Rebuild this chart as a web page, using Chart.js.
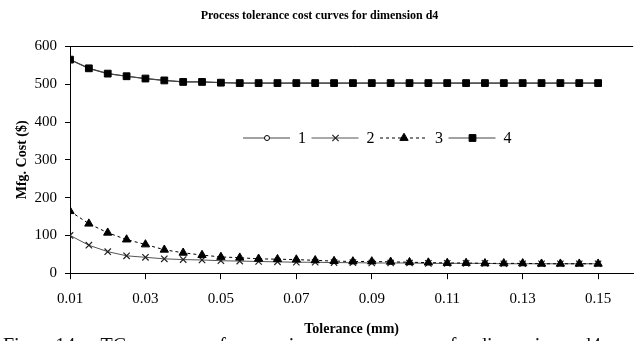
<!DOCTYPE html>
<html>
<head>
<meta charset="utf-8">
<script src="https://cdn.jsdelivr.net/npm/chart.js@4.4.0/dist/chart.umd.min.js"></script>
<style>
  html, body { margin: 0; padding: 0; background: #fff; overflow: hidden; }
  #wrap { position: relative; width: 639px; height: 341px; overflow: hidden; }
  #wrap canvas { position: absolute; left: 0; top: 0; }
  #caption {
    position: absolute; left: 3px; top: 334px; width: 598px;
    font: 20px 'Liberation Serif', serif; color: #111; line-height: 22px;
    text-align: justify; text-align-last: justify;
  }
</style>
</head>
<body>
<div id="wrap">
  <canvas id="chart" width="639" height="341"></canvas>
  <div id="caption">Fig. 14. TC curves for various processes of dimension d4</div>
</div>
<script>
// tolerance values (mm)
const tolerance = [0.01, 0.015, 0.02, 0.025, 0.03, 0.035, 0.04, 0.045, 0.05, 0.055,
                   0.06, 0.065, 0.07, 0.075, 0.08, 0.085, 0.09, 0.095, 0.1, 0.105,
                   0.11, 0.115, 0.12, 0.125, 0.13, 0.135, 0.14, 0.145, 0.15];

// cost per process ($)
const cost4 = [565, 542, 528, 521, 515, 510, 506, 506, 504, 503,
               503, 503, 503, 503, 503, 503, 503, 503, 503, 503,
               503, 503, 503, 503, 503, 503, 503, 503, 503];
const cost1 = [565, 542, 528, 521, 515, 510, 506, 506, 504, 503,
               503, 503, 503, 503, 503, 503, 503, 503, 503, 503,
               503, 503, 503, 503, 503, 503, 503, 503, 503];
const cost2 = [100, 74, 57, 46, 42, 38, 36, 35, 33, 32,
               31, 30, 29, 29, 28, 28, 27, 27, 27, 26,
               26, 26, 26, 25, 25, 25, 25, 25, 25];
const cost3 = [164, 131, 107, 89, 76, 62, 54, 48, 43, 41,
               38, 37, 36, 34, 32, 31, 31, 30, 29, 28,
               27, 27, 26, 26, 26, 25, 25, 25, 25];

const seriesNames = ['1', '2', '3', '4'];
const xTicks = [0.01, 0.03, 0.05, 0.07, 0.09, 0.11, 0.13, 0.15];
const yTicks = [0, 100, 200, 300, 400, 500, 600];

const serif = "'Liberation Serif', 'Times New Roman', serif";

function pts(vals) {
  return vals.map((v, i) => ({ x: tolerance[i], y: v }));
}

// legend drawn inside the plot, line + marker + label like the original
const inlineLegend = {
  id: 'inlineLegend',
  afterDraw(chart) {
    const ctx = chart.ctx;
    const area = chart.chartArea;
    const y = 138;
    let x = area.left + 173;
    ctx.save();
    chart.data.datasets.forEach((ds) => {
      ctx.strokeStyle = ds.borderColor;
      ctx.lineWidth = ds.borderWidth;
      ctx.setLineDash(ds.borderDash || []);
      ctx.beginPath();
      ctx.moveTo(x, y);
      ctx.lineTo(x + 47, y);
      ctx.stroke();
      ctx.setLineDash([]);
      ctx.fillStyle = ds.pointBackgroundColor;
      ctx.strokeStyle = ds.pointBorderColor;
      ctx.lineWidth = ds.pointBorderWidth;
      Chart.helpers.drawPoint(ctx, {
        pointStyle: ds.pointStyle, radius: ds.pointRadius,
        borderWidth: ds.pointBorderWidth, rotation: 0
      }, x + 24, y);
      ctx.fillStyle = '#000';
      ctx.font = '16px ' + serif;
      ctx.textBaseline = 'middle';
      ctx.fillText(ds.label, x + 55, y + 1);
      x += 68.5;
    });
    ctx.restore();
  }
};

new Chart(document.getElementById('chart'), {
  type: 'line',
  data: {
    datasets: [
      {
        label: seriesNames[0], data: pts(cost1), order: 10,
        borderColor: '#444', borderWidth: 1,
        pointStyle: 'circle', pointRadius: 2.5,
        pointBackgroundColor: '#fff', pointBorderColor: '#000', pointBorderWidth: 1
      },
      {
        label: seriesNames[1], data: pts(cost2), order: 2,
        borderColor: '#555', borderWidth: 1,
        pointStyle: 'crossRot', pointRadius: 4.5,
        pointBackgroundColor: '#000', pointBorderColor: '#222', pointBorderWidth: 1.2
      },
      {
        label: seriesNames[2], data: pts(cost3), order: 1,
        borderColor: '#000', borderWidth: 1, borderDash: [3, 3],
        pointStyle: 'triangle', pointRadius: 4.8,
        pointBackgroundColor: '#000', pointBorderColor: '#000', pointBorderWidth: 1
      },
      {
        label: seriesNames[3], data: pts(cost4), order: 0,
        borderColor: '#444', borderWidth: 1.2,
        pointStyle: 'rect', pointRadius: 4.8,
        pointBackgroundColor: '#000', pointBorderColor: '#000', pointBorderWidth: 1
      }
    ]
  },
  options: {
    responsive: false,
    animation: false,
    layout: { padding: { left: 0, right: 0, top: 0, bottom: 3 } },
    plugins: {
      legend: { display: false },
      tooltip: { enabled: false },
      title: {
        display: true,
        text: 'Process tolerance cost curves for dimension d4',
        color: '#000',
        font: { family: serif, size: 12, weight: 'bold' },
        padding: { top: 9, bottom: 23 }
      }
    },
    scales: {
      x: {
        type: 'linear',
        min: 0.01,
        max: 0.1593,
        afterBuildTicks: (s) => { s.ticks = xTicks.map(v => ({ value: v })); },
        border: { display: true, color: '#000', width: 1 },
        grid: { drawOnChartArea: false, drawTicks: true, tickLength: 6, color: '#000' },
        ticks: {
          color: '#000', padding: 11, maxRotation: 0, autoSkip: false,
          font: { family: serif, size: 15 },
          callback: (v) => v.toFixed(2)
        },
        title: {
          display: true, text: 'Tolerance (mm)', color: '#000',
          font: { family: serif, size: 14, weight: 'bold' },
          padding: { top: 2, bottom: 0 }
        }
      },
      y: {
        min: 0,
        max: 600,
        afterBuildTicks: (s) => { s.ticks = yTicks.map(v => ({ value: v })); },
        afterFit: (s) => { s.width = 70; },
        border: { display: true, color: '#000', width: 1 },
        grid: {
          drawTicks: true, tickLength: 5,
          color: (c) => (c.tick && c.tick.value === 600 ? '#000' : 'rgba(0,0,0,0)'),
          tickColor: '#000'
        },
        ticks: {
          color: '#000', padding: 8,
          font: { family: serif, size: 15 }
        },
        title: {
          display: true, text: 'Mfg. Cost ($)', color: '#000',
          font: { family: serif, size: 14, weight: 'bold' },
          padding: { top: 14, bottom: 5 }
        }
      }
    }
  },
  plugins: [inlineLegend]
});
</script>
</body>
</html>
